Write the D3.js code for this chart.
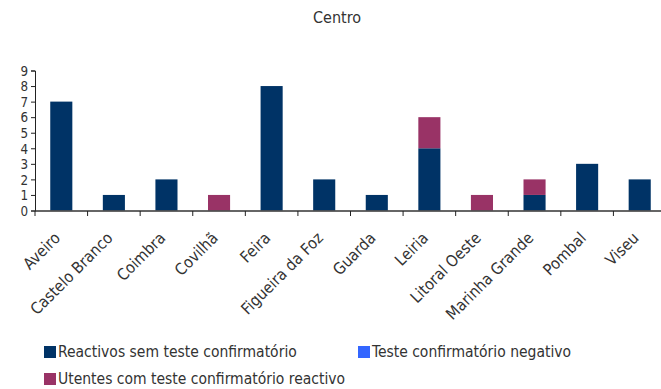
<!DOCTYPE html>
<html>
<head>
<meta charset="utf-8">
<script src="https://cdn.jsdelivr.net/npm/d3@7"></script>
<style>
  html, body { margin: 0; padding: 0; background: #fff; }
  svg { display: block; }
  text { font-family: "Liberation Sans Narrow", "DejaVu Sans Condensed", "Liberation Sans", sans-serif; fill: #333; }
</style>
</head>
<body>
<svg id="chart" width="661" height="389"></svg>
<script>
const categories = ["Aveiro", "Castelo Branco", "Coimbra", "Covilhã", "Feira", "Figueira da Foz",
  "Guarda", "Leiria", "Litoral Oeste", "Marinha Grande", "Pombal", "Viseu"];
const reactivosSemTeste = [7, 1, 2, 0, 8, 2, 1, 4, 0, 1, 3, 2];
const testeNegativo = [0, 0, 0, 0, 0, 0, 0, 0, 0, 0, 0, 0];
const testeReactivo = [0, 0, 0, 1, 0, 0, 0, 2, 1, 1, 0, 0];
const seriesNames = ["Reactivos sem teste confirmatório", "Teste confirmatório negativo",
  "Utentes com teste confirmatório reactivo"];
const yTicks = [0, 1, 2, 3, 4, 5, 6, 7, 8, 9];

const colors = ["#003366", "#3366FF", "#993366"];
const keys = ["a", "b", "c"];
const rows = categories.map((c, i) => ({
  cat: c, a: reactivosSemTeste[i], b: testeNegativo[i], c: testeReactivo[i]
}));

const svg = d3.select("#chart");
const x = d3.scaleBand().domain(categories).range([35, 666]).paddingInner(0.58).paddingOuter(0.29);
const y = d3.scaleLinear().domain([0, 9]).range([210.5, 70.5]);

// title
svg.append("text").attr("x", 337).attr("y", 23).attr("text-anchor", "middle")
  .style("font-size", "16px").text("Centro");

// stacked bars
const stack = d3.stack().keys(keys)(rows);
svg.append("g").selectAll("g").data(stack).join("g")
  .attr("fill", (d, i) => colors[i])
  .selectAll("rect").data(d => d).join("rect")
  .attr("x", d => x(d.data.cat))
  .attr("width", x.bandwidth())
  .attr("y", d => y(d[1]))
  .attr("height", d => Math.max(0, y(d[0]) - y(d[1])));

// y axis
const yAxis = svg.append("g").attr("transform", "translate(35,0)")
  .call(d3.axisLeft(y).tickValues(yTicks).tickSize(4).tickPadding(3));
yAxis.select(".domain").attr("stroke", "#222");
yAxis.selectAll(".tick line").attr("stroke", "#222");
yAxis.selectAll("text").style("font-size", "13.3px").attr("fill", "#333").attr("dy", "0.36em");

// x axis with ticks at category boundaries
const bounds = categories.map((c, i) => 35 + i * x.step());
const xg = svg.append("g");
xg.append("line").attr("x1", 35).attr("x2", 661).attr("y1", 211).attr("y2", 211)
  .attr("stroke", "#333").attr("stroke-width", 1.5);
xg.selectAll("line.tk").data(bounds).join("line").attr("class", "tk")
  .attr("x1", d => d).attr("x2", d => d).attr("y1", 211).attr("y2", 216)
  .attr("stroke", "#222");
xg.selectAll("text").data(categories).join("text")
  .attr("transform", c => `translate(${x(c) + x.bandwidth() / 2 - 4},${235}) rotate(-45)`)
  .attr("text-anchor", "end")
  .attr("dy", "0.35em")
  .style("font-size", "16px")
  .text(c => c);

// legend
const legendPos = [[44, 352], [358, 352], [44, 379]];
const lg = svg.append("g");
seriesNames.forEach((name, i) => {
  const [lx, ly] = legendPos[i];
  lg.append("rect").attr("x", lx).attr("y", ly - 6).attr("width", 12).attr("height", 12)
    .attr("fill", colors[i]);
  lg.append("text").attr("x", lx + 14).attr("y", ly).attr("dy", "0.35em")
    .style("font-size", "15.5px").text(name);
});
</script>
</body>
</html>
